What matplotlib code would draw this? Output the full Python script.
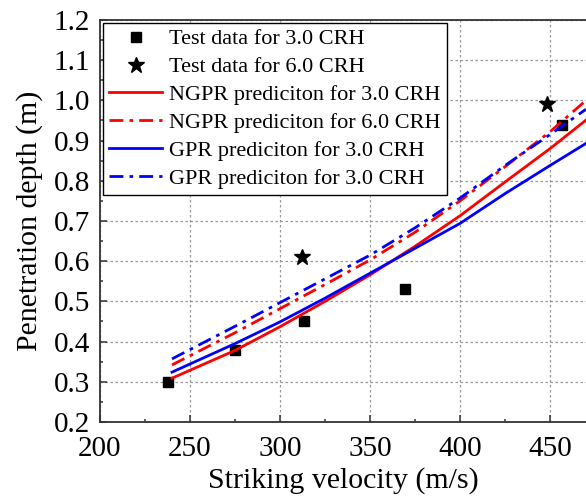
import matplotlib.pyplot as plt
from matplotlib.ticker import MultipleLocator

plt.rcParams['font.family'] = ['Liberation Serif', 'DejaVu Serif']

# test data
v_crh3 = [238, 275, 313.5, 369.5, 456.5]
d_crh3 = [0.30, 0.38, 0.45, 0.53, 0.94]
v_crh6 = [312, 448.5]
d_crh6 = [0.61, 0.99]

# model predictions
v_pred = [240, 275, 300, 325, 350, 375, 400, 425, 450, 470]
ngpr_3 = [0.309, 0.378, 0.437, 0.500, 0.566, 0.637, 0.713, 0.797, 0.880, 0.951]
ngpr_6 = [0.342, 0.422, 0.482, 0.542, 0.603, 0.672, 0.750, 0.835, 0.922, 1.000]
gpr_3 = [0.324, 0.395, 0.449, 0.508, 0.570, 0.632, 0.694, 0.768, 0.838, 0.893]
gpr_3b = [0.357, 0.438, 0.497, 0.556, 0.615, 0.683, 0.757, 0.838, 0.915, 0.978]

fig = plt.figure(figsize=(5.86, 5.0), dpi=100)
ax = fig.add_axes([100 / 586, 1 - 422 / 500, 486 / 586, 402 / 500])

dd = (5, 2.2, 1.3, 2.2)
ax.plot(v_crh3, d_crh3, 's', color='black', ms=7.5, ls='none', label='Test data for 3.0 CRH')
ax.plot(v_crh6, d_crh6, '*', color='black', ms=12, ls='none', label='Test data for 6.0 CRH')
ax.plot(v_pred, ngpr_3, color='#ff0000', lw=2, label='NGPR prediciton for 3.0 CRH')
ax.plot(v_pred, ngpr_6, color='#ff0000', lw=2, dashes=dd, label='NGPR prediciton for 6.0 CRH')
ax.plot(v_pred, gpr_3, color='#0000ff', lw=2, label='GPR prediciton for 3.0 CRH')
ax.plot(v_pred, gpr_3b, color='#0000ff', lw=2, dashes=dd, label='GPR prediciton for 3.0 CRH')

ax.set_xlim(200, 470)
ax.set_ylim(0.2, 1.2)
ax.xaxis.set_major_locator(MultipleLocator(50))
ax.xaxis.set_minor_locator(MultipleLocator(25))
ax.yaxis.set_major_locator(MultipleLocator(0.1))
ax.yaxis.set_minor_locator(MultipleLocator(0.05))
ax.grid(True, which='major', ls=(0, (2, 2)), color='#999999', lw=0.9)

ax.tick_params(which='both', direction='in', labelsize=21, width=1.1, color='#333333')
ax.tick_params(which='major', length=5)
ax.tick_params(which='minor', length=2.5)
ax.tick_params(axis='x', pad=10)
ax.tick_params(axis='y', pad=7)
for s in ['left', 'bottom', 'top']:
    ax.spines[s].set_linewidth(1.3)
    ax.spines[s].set_color('#333333')
ax.spines['right'].set_visible(False)

ax.set_xlabel('Striking velocity (m/s)', fontsize=21.5)
ax.xaxis.set_label_coords(0.5, -0.112)
ax.set_ylabel('Penetration depth (m)', fontsize=21.5, labelpad=8)

leg = ax.legend(loc='upper left', bbox_to_anchor=(0.0, 1.0), borderaxespad=0.12,
                fontsize=16, fancybox=False, framealpha=1, edgecolor='black',
                handlelength=2.4, handletextpad=0.3, labelspacing=0.33, borderpad=0.28)
leg.get_frame().set_linewidth(1.0)

fig.savefig('out.png', dpi=100, facecolor='white')
